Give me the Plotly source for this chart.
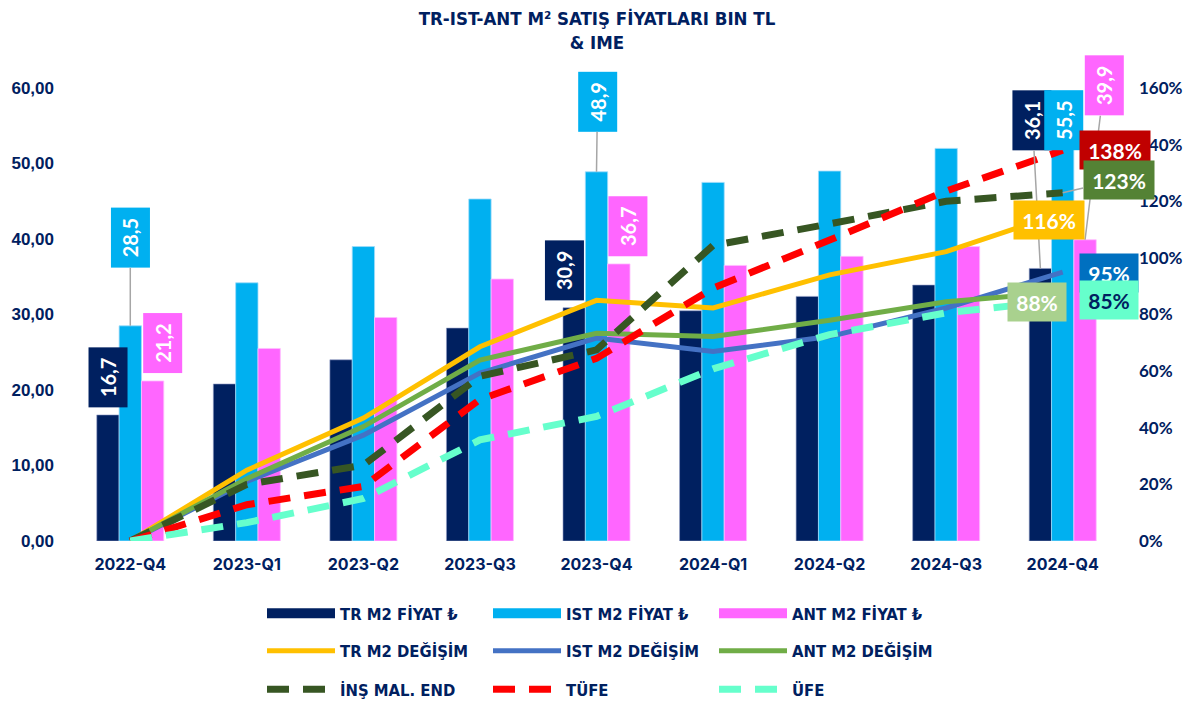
import plotly.graph_objects as go

# ---------------- data ----------------
categories = ['2022-Q4', '2023-Q1', '2023-Q2', '2023-Q3', '2023-Q4',
              '2024-Q1', '2024-Q2', '2024-Q3', '2024-Q4']

tr_price = [16.7, 20.8, 24.0, 28.2, 30.9, 30.5, 32.4, 33.9, 36.1]
ist_price = [28.5, 34.2, 39.0, 45.3, 48.9, 47.5, 49.0, 52.0, 55.5]
ant_price = [21.2, 25.5, 29.6, 34.7, 36.7, 36.5, 37.7, 39.0, 39.9]

tr_chg = [0.0, 0.25, 0.434, 0.686, 0.85, 0.823, 0.94, 1.022, 1.16]
ist_chg = [0.0, 0.21, 0.374, 0.593, 0.717, 0.669, 0.722, 0.823, 0.95]
ant_chg = [0.0, 0.22, 0.404, 0.639, 0.734, 0.722, 0.78, 0.845, 0.88]
ins_mal = [0.0, 0.20, 0.268, 0.582, 0.675, 1.044, 1.12, 1.200, 1.23]
tufe = [0.0, 0.128, 0.193, 0.500, 0.645, 0.893, 1.063, 1.236, 1.38]
ufe = [0.0, 0.065, 0.150, 0.357, 0.440, 0.608, 0.729, 0.806, 0.85]

left_ticks = [0, 10, 20, 30, 40, 50, 60]
right_ticks = [0, 0.2, 0.4, 0.6, 0.8, 1.0, 1.2, 1.4, 1.6]

title_text = 'TR-IST-ANT M² SATIŞ FİYATLARI BIN TL<br>& IME'

# ---------------- styles ----------------
# the page body keeps an 8px margin, so the figure is 8px smaller than the window
FIG_W, FIG_H = 1186, 696
NAVY = '#002060'
C_TR, C_IST, C_ANT = '#002060', '#00B0F0', '#FF66FF'
C_TRL, C_ISTL, C_ANTL = '#FFC000', '#4472C4', '#70AD47'
C_INS, C_TUFE, C_UFE = '#375623', '#FF0000', '#66FFCC'
COND = 'DejaVu Sans Condensed, Liberation Sans Narrow, sans-serif'
LBL = 'Lato, Open Sans, sans-serif'
BARGAP = 0.425
BAR_W = (1 - BARGAP) / 3
DASH = '22px,14px'

fig = go.Figure()

bars = [
    ('TR M2 FİYAT ₺', tr_price, C_TR, 'rgba(150,160,200,0.6)'),
    ('IST M2 FİYAT ₺', ist_price, C_IST, 'rgba(160,220,250,0.8)'),
    ('ANT M2 FİYAT ₺', ant_price, C_ANT, 'rgba(255,190,255,0.8)'),
]
for name, vals, col, edge in bars:
    fig.add_bar(x=categories, y=vals, name=name, marker=dict(color=col, line=dict(color=edge, width=1)),
                showlegend=False, legendgroup=name)

lines = [
    ('TR M2 DEĞİŞİM', tr_chg, C_TRL, 5, 'solid'),
    ('IST M2 DEĞİŞİM', ist_chg, C_ISTL, 5, 'solid'),
    ('ANT M2 DEĞİŞİM', ant_chg, C_ANTL, 5, 'solid'),
    ('İNŞ MAL. END', ins_mal, C_INS, 7, DASH),
    ('TÜFE', tufe, C_TUFE, 7, DASH),
    ('ÜFE', ufe, C_UFE, 7, DASH),
]

legend_names = ['legend', 'legend2', 'legend3', 'legend4', 'legend5',
                'legend6', 'legend7', 'legend8', 'legend9']
# legend keys for bars drawn as wide strips like the original
for k, (name, vals, col, edge) in enumerate(bars):
    fig.add_scatter(x=[None], y=[None], mode='lines', name=name, legendgroup=name,
                    line=dict(color=col, width=10), legend=legend_names[k],
                    hoverinfo='skip')

for k, (name, vals, col, w, dash) in enumerate(lines):
    fig.add_scatter(x=categories, y=vals, yaxis='y2', mode='lines', name=name,
                    line=dict(color=col, width=w, dash=dash),
                    legend=legend_names[3 + k])

# ---------------- legends ----------------
col_x = [259, 485, 711]
row_y = [605.5, 643, 681.5]
legend_layout = {}
for k, ln in enumerate(legend_names):
    r, c = divmod(k, 3)
    legend_layout[ln] = dict(
        orientation='h', xref='container', yref='container',
        x=(col_x[c] - 5) / FIG_W, y=1 - row_y[r] / FIG_H,
        xanchor='left', yanchor='middle', itemwidth=68,
        bgcolor='rgba(0,0,0,0)', borderwidth=0,
        font=dict(family=COND, size=16.5, color=NAVY, weight=700),
    )

# ---------------- data labels ----------------
ann = []

def num_txt(v):
    return f'{v:.1f}'.replace('.', ',')

def pct_txt(v):
    return f'{round(v * 100)}%'

GREY = '#A6A6A6'
CLEAR = 'rgba(0,0,0,0)'

# (values, category index, bar slot, colour, ax, ay, leader)
bar_lbls = [
    (tr_price, 0, -1, C_TR, 0, -38, False),
    (ist_price, 0, 0, C_IST, 0, -88, True),
    (ant_price, 0, 1, C_ANT, 10, -38, False),
    (tr_price, 4, -1, C_TR, -10, -37, False),
    (ist_price, 4, 0, C_IST, 1, -70, True),
    (ant_price, 4, 1, C_ANT, 9, -38, False),
    (tr_price, 8, -1, C_TR, -8, -148, True),
    (ist_price, 8, 0, C_IST, 1, -2, False),
    (ant_price, 8, 1, C_ANT, 19, -154, True),
]
for vals, i, slot, col, ax, ay, leader in bar_lbls:
    ann.append(dict(
        x=i + slot * BAR_W, y=vals[i], xref='x', yref='y',
        text=num_txt(vals[i]), textangle=-90,
        font=dict(family=LBL, size=20, color='white', weight=700),
        bgcolor=col, width=57, height=36, borderpad=1,
        showarrow=True, arrowhead=0, arrowwidth=1.5, standoff=0,
        arrowcolor=GREY if leader else CLEAR, ax=ax, ay=ay,
    ))

# line end labels: (values, box colour, text colour, width, ax, ay, leader)
line_lbls = [
    (tufe, '#C00000', 'white', 68, 52, 0, False),
    (ins_mal, '#548235', 'white', 68, 56, -13, True),
    (tr_chg, '#FFC000', 'white', 68, -14, 7, False),
    (ist_chg, '#0070C0', 'white', 56, 46, 1, False),
    (ufe, '#66FFCC', NAVY, 56, 46, 0, False),
    (ant_chg, '#A9D18E', 'white', 56, -26, 10, False),
]
last = len(categories) - 1
for vals, bg, fc, w, ax, ay, leader in line_lbls:
    ann.append(dict(
        x=last, y=vals[last], xref='x', yref='y2',
        text=pct_txt(vals[last]),
        font=dict(family=LBL, size=21, color=fc, weight=700),
        bgcolor=bg, width=w, height=36, borderpad=1,
        showarrow=True, arrowhead=0, arrowwidth=1.5, standoff=0,
        arrowcolor=GREY if leader else CLEAR, ax=ax, ay=ay,
    ))

fig.update_layout(
    width=FIG_W, height=FIG_H,
    margin=dict(l=64, r=73, t=80, b=163, autoexpand=False),
    paper_bgcolor='white', plot_bgcolor='white',
    barmode='group', bargap=BARGAP, bargroupgap=0,
    separators=',.',
    title=dict(text=title_text, x=(597 - 8) / FIG_W, xanchor='center', xref='container',
               y=1 - 17 / FIG_H, yanchor='top', yref='container',
               font=dict(family=COND, size=18.5, color=NAVY, weight=700)),
    xaxis=dict(type='category', range=[-0.5, 8.5], showgrid=False, zeroline=False,
               showline=False, ticks='', ticklabelstandoff=12, automargin=False,
               tickfont=dict(family='Inter, Roboto, sans-serif', size=16, color=NAVY, weight=700)),
    yaxis=dict(range=[0, 60], tickvals=left_ticks, tickformat='.2f', showgrid=False,
               zeroline=False, showline=False, ticks='', ticklabelstandoff=17, automargin=False,
               tickfont=dict(family='Liberation Sans, Arial, sans-serif', size=17, color=NAVY, weight=700)),
    yaxis2=dict(range=[0, 1.6], tickvals=right_ticks, tickformat='.0%', overlaying='y',
                side='right', showgrid=False, zeroline=False, showline=False, ticks='',
                ticklabelstandoff=17, automargin=False,
                tickfont=dict(family=LBL, size=17, color=NAVY, weight=700)),
    annotations=ann,
    **legend_layout,
)

fig.write_html('out.html')
